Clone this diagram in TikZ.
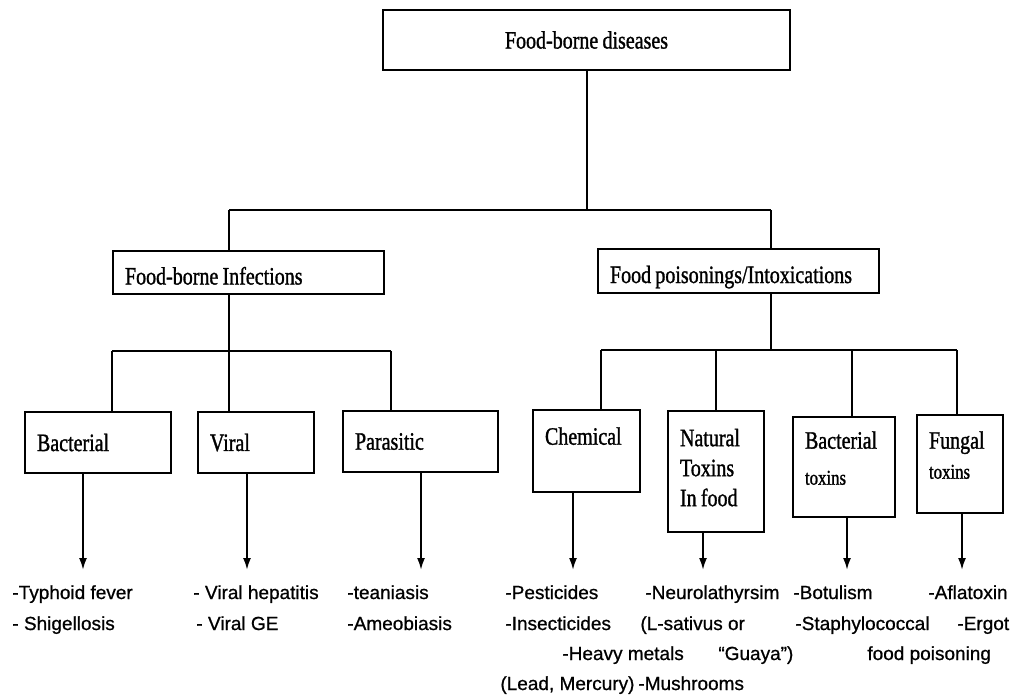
\documentclass[tikz,border=0pt]{standalone}
\usepackage{fontspec}
\newfontfamily\boxfont[FakeStretch=0.8, WordSpace=0.85, FakeBold=1.2]{Liberation Serif}
\newfontfamily\leaffont[FakeBold=0.8]{Liberation Sans}
\usetikzlibrary{arrows.meta}

\begin{document}
\begin{tikzpicture}[x=0.5pt, y=-0.5pt, >={Latex[length=6pt,width=4pt]},
    box/.style={draw, line width=1.3pt, font=\boxfont\fontsize{12.5}{15}\selectfont, align=flush left, inner xsep=6pt, inner ysep=4pt},
    link/.style={line width=1pt},
    leaf/.style={anchor=base west, inner sep=0pt, font=\leaffont\fontsize{9.5}{11}\selectfont}]
  \useasboundingbox (0,0) rectangle (1016,698);
  % top
  \node[box, minimum width=203.5pt, minimum height=30pt] (top) at (586.5,40) {Food-borne diseases};
  % two groups
  \node[box, minimum width=135.5pt, minimum height=21.5pt, text width=123.5pt, text height=12pt, text depth=0pt, inner ysep=2pt] (inf) at (248.5,272.5) {Food-borne Infections};
  \node[box, minimum width=140.5pt, minimum height=22pt, text width=128.5pt, text height=12pt, text depth=0pt, inner ysep=2pt] (poi) at (738.5,271) {Food poisonings/Intoxications};
  \coordinate (bus1L) at (229,210); \coordinate (bus1R) at (771,210);
  \draw[link] (top.south) -- (top.south |- bus1L);
  \draw[link] (bus1L) -- (bus1R);
  \draw[link] (bus1L) -- (bus1L |- inf.north);
  \draw[link] (bus1R) -- (bus1R |- poi.north);
  % infections
  \node[box, minimum width=73pt, minimum height=30.5pt, text width=61pt] (bac) at (98,442.5) {Bacterial};
  \node[box, minimum width=58pt, minimum height=30.5pt, text width=46pt] (vir) at (256,442.5) {Viral};
  \node[box, minimum width=77.5pt, minimum height=30.5pt, text width=65.5pt] (par) at (420.5,441.5) {Parasitic};
  \coordinate (bus2L) at (112,351); \coordinate (bus2R) at (391,351);
  \draw[link] (bus2L) -- (bus2R);
  \draw[link] (bus1L |- inf.south) -- (bus1L |- vir.north);
  \draw[link] (bus2L) -- (bus2L |- bac.north);
  \draw[link] (bus2R) -- (bus2R |- par.north);
  % intoxications
  \node[box, minimum width=53.5pt, minimum height=41pt, text width=41.5pt, text depth=15pt] (chem) at (586.5,451) {Chemical};
  \node[box, minimum width=48pt, minimum height=60.5pt, text width=36pt, text depth=34pt] (nat) at (716,471.5) {Natural\\Toxins\\In food};
  \node[box, minimum width=51pt, minimum height=50pt, text width=39pt, text depth=27pt] (btox) at (844,467) {Bacterial\\[3pt]{\fontsize{10.5}{12}\selectfont toxins}};
  \node[box, minimum width=43pt, minimum height=49pt, text width=31pt, text depth=24pt] (ftox) at (960,464) {Fungal\\{\fontsize{10.5}{12}\selectfont toxins}};
  \coordinate (bus3L) at (601,350); \coordinate (bus3R) at (957,350); \coordinate (dropB) at (852,350);
  \draw[link] (bus3L) -- (bus3R);
  \draw[link] (bus1R |- poi.south) -- (bus1R |- bus3L);
  \draw[link] (bus3L) -- (bus3L |- chem.north);
  \draw[link] (nat.north |- bus3L) -- (nat.north);
  \draw[link] (dropB) -- (dropB |- btox.north);
  \draw[link] (bus3R) -- (bus3R |- ftox.north);
  % arrows
  \foreach \n/\x in {bac/83, vir/247, par/421, chem/573, nat/703, btox/847, ftox/962} {
    \coordinate (tip\n) at (\x,570);
    \draw[link,->] (tip\n |- \n.south) -- (tip\n);
  }
  % examples
  \node[leaf] (typh) at (12,599) {-Typhoid fever};
  \node[leaf] (shig) at (12,630) {- Shigellosis};
  \node[leaf] (vhep) at (193,599) {- Viral hepatitis};
  \node[leaf] (vge) at (196,630) {- Viral GE};
  \node[leaf] (tean) at (347,599) {-teaniasis};
  \node[leaf] (amoe) at (347,630) {-Ameobiasis};
  \node[leaf] (pest) at (505,599) {-Pesticides};
  \node[leaf] (insc) at (505,630) {-Insecticides};
  \node[leaf] (heav) at (562,660) {-Heavy metals};
  \node[leaf] (lead) at (500,690) {(Lead, Mercury)};
  \node[leaf] (mush) at (638,690) {-Mushrooms};
  \node[leaf] (neur) at (645,599) {-Neurolathyrsim};
  \node[leaf] (lsat) at (640,630) {(L-sativus or};
  \node[leaf] (guay) at (718,660) {“Guaya”)};
  \node[leaf] (botu) at (793,599) {-Botulism};
  \node[leaf] (stap) at (795,630) {-Staphylococcal};
  \node[leaf] (fpoi) at (867,660) {food poisoning};
  \node[leaf] (afla) at (928,599) {-Aflatoxin};
  \node[leaf] (ergo) at (957,630) {-Ergot};
\end{tikzpicture}
\end{document}
